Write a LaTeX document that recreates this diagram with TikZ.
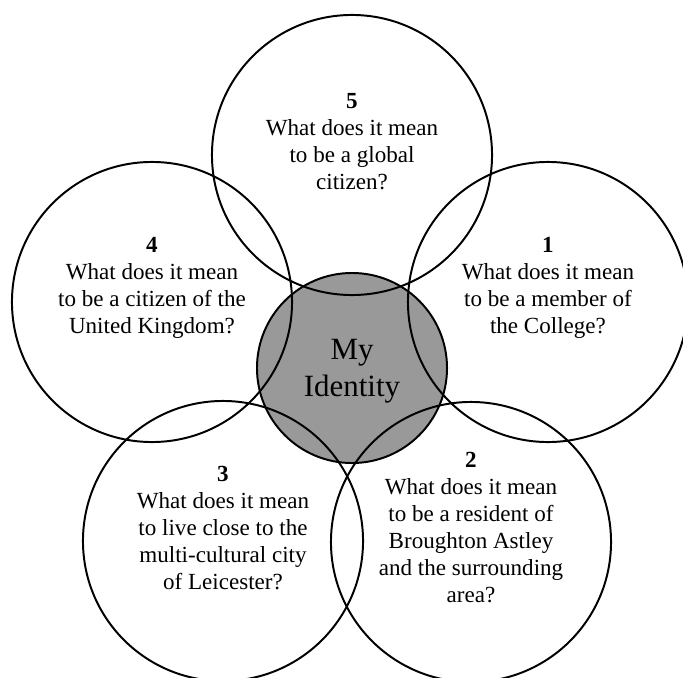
\documentclass[tikz,border=0pt]{standalone}
\usepackage{fontspec}
\setmainfont{Liberation Serif}
\tikzset{
  ring/.style={circle, draw, line width=1.4pt, minimum size=7cm, inner sep=0pt},
  core/.style={circle, draw, line width=1.4pt, fill=black!40, minimum size=4.75cm, inner sep=0pt},
  question/.style={align=center, inner sep=0pt, font=\fontsize{16.4}{19.2}\selectfont},
  centre/.style={align=center, inner sep=0pt, font=\fontsize{22}{26.3}\selectfont}
}
\begin{document}
\begin{tikzpicture}[x=0.025cm, y=-0.025cm]
\useasboundingbox (0,0) rectangle (683,677);
\clip (0,0) rectangle (683,677);

\node[core] (me) at (352,368) {};
\foreach \n/\x/\y in {1/548/302, 2/471/542, 3/223/541, 4/152/302, 5/352/155}
{
  \node[ring] (r\n) at (\x,\y) {};
}

\node[question] (q1) at (548,288) {\textbf{1}\\What does it mean\\to be a member of\\the College?};
\node[question] (q2) at (471,528) {\textbf{2}\\What does it mean\\to be a resident of\\Broughton Astley\\and the surrounding\\area?};
\node[question] (q3) at (223,528) {\textbf{3}\\What does it mean\\to live close to the\\multi-cultural city\\of Leicester?};
\node[question] (q4) at (152,288) {\textbf{4}\\What does it mean\\to be a citizen of the\\United Kingdom?};
\node[question] (q5) at (352,142) {\textbf{5}\\What does it mean\\to be a global\\citizen?};
\node[centre] (id) at ([yshift=-2]me) {My\\Identity};
\end{tikzpicture}
\end{document}
